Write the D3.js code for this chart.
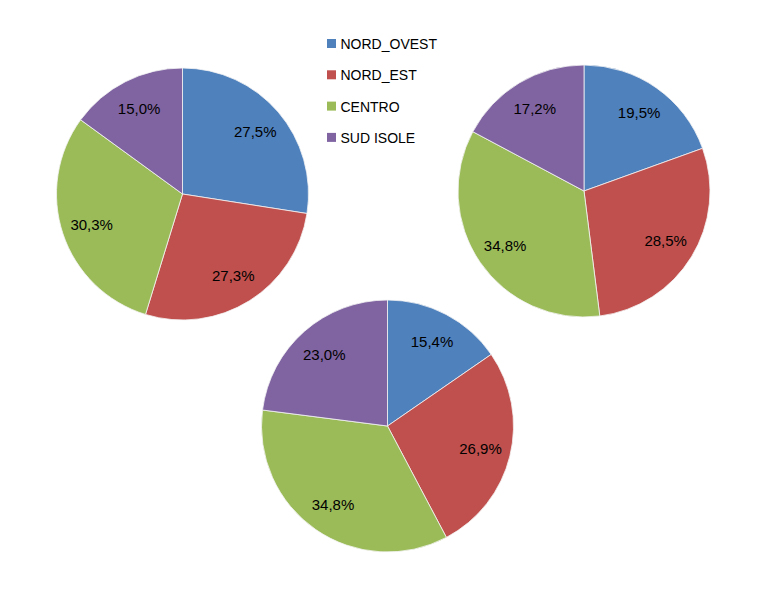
<!DOCTYPE html>
<html>
<head>
<meta charset="utf-8">
<script src="https://cdn.jsdelivr.net/npm/d3@7"></script>
<style>
html,body{margin:0;padding:0;background:#fff;}
svg{display:block;}
</style>
</head>
<body>
<svg id="chart" width="761" height="591"></svg>
<script>
const categories = ["NORD_OVEST", "NORD_EST", "CENTRO", "SUD ISOLE"];
const colors = ["#4F81BD", "#C0504D", "#9BBB59", "#8064A2"];
const pie1Values = [27.5, 27.3, 30.3, 15.0];
const pie2Values = [19.5, 28.5, 34.8, 17.2];
const pie3Values = [15.4, 26.9, 34.8, 23.0];
const pieLabels = [
  ["27,5%", "27,3%", "30,3%", "15,0%"],
  ["19,5%", "28,5%", "34,8%", "17,2%"],
  ["15,4%", "26,9%", "34,8%", "23,0%"]
];

const svg = d3.select("#chart");
const R = 126;
const pies = [
  {values: pie1Values, labels: pieLabels[0], cx: 182.5, cy: 194},
  {values: pie2Values, labels: pieLabels[1], cx: 584, cy: 191},
  {values: pie3Values, labels: pieLabels[2], cx: 387.5, cy: 426}
];

const color = d3.scaleOrdinal().domain(categories).range(colors);
const pieGen = d3.pie().sort(null).value(d => d.v);
const arc = d3.arc().innerRadius(0).outerRadius(R);
const labelArc = d3.arc().innerRadius(R * 0.76).outerRadius(R * 0.76);

pies.forEach(p => {
  const data = categories.map((c, i) => ({cat: c, v: p.values[i], label: p.labels[i]}));
  const g = svg.append("g").attr("transform", `translate(${p.cx},${p.cy})`);
  const arcs = pieGen(data);
  g.selectAll("path").data(arcs).enter().append("path")
    .attr("d", arc)
    .attr("fill", d => color(d.data.cat))
    .attr("stroke", "#f4f4f4")
    .attr("stroke-width", 0.8);
  g.selectAll("text").data(arcs).enter().append("text")
    .attr("transform", d => `translate(${labelArc.centroid(d)})`)
    .attr("text-anchor", "middle")
    .attr("dy", "0.36em")
    .attr("font-family", "'Liberation Sans', Arial, sans-serif")
    .attr("font-size", 15)
    .attr("fill", "#000")
    .text(d => d.data.label);
});

// Legend
const legend = svg.append("g").attr("transform", "translate(327,44)");
const rowH = 31.3;
const items = legend.selectAll("g").data(categories).enter().append("g")
  .attr("transform", (d, i) => `translate(0,${i * rowH})`);
items.append("rect")
  .attr("x", 0).attr("y", -5).attr("width", 9).attr("height", 9)
  .attr("fill", d => color(d));
items.append("text")
  .attr("x", 13.5).attr("dy", "0.36em")
  .attr("font-family", "'Liberation Sans', Arial, sans-serif")
  .attr("font-size", 14)
  .attr("fill", "#000")
  .text(d => d);
</script>
</body>
</html>
